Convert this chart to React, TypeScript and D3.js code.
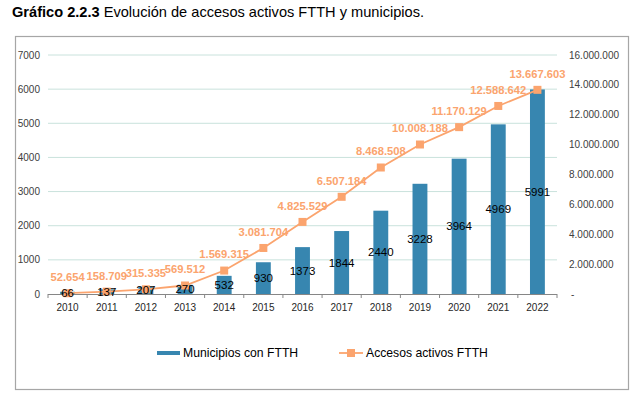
import React, { useEffect, useRef } from 'react';
import * as d3 from 'd3';

const years = ['2010', '2011', '2012', '2013', '2014', '2015', '2016', '2017', '2018', '2019', '2020', '2021', '2022'];
const municipios = [66, 137, 207, 270, 532, 930, 1373, 1844, 2440, 3228, 3964, 4969, 5991];
const accesos = [52654, 158709, 315335, 569512, 1569315, 3081704, 4825529, 6507184, 8468508, 10008188, 11170129, 12588642, 13667603];
const leftTicks = [0, 1000, 2000, 3000, 4000, 5000, 6000, 7000];
const rightTicks = [0, 2000000, 4000000, 6000000, 8000000, 10000000, 12000000, 14000000, 16000000];

const BLUE = '#3786b0';
const ORANGE = '#fba46e';
const FONT = '"Liberation Sans", Arial, sans-serif';

// 1.569.315 style
const fmtDots = (v: number) => d3.format(',')(v).replace(/,/g, '.');

export default function App() {
  const ref = useRef<SVGSVGElement>(null);

  useEffect(() => {
    const svg = d3.select(ref.current);
    svg.selectAll('*').remove();

    const left = 48, right = 557, top = 55, bottom = 294;

    const x = d3.scaleBand()
      .domain(years)
      .range([left, right])
      .paddingInner(0.62)
      .paddingOuter(0.31);
    const yL = d3.scaleLinear().domain([0, 7000]).range([bottom, top]);
    const yR = d3.scaleLinear().domain([0, 16000000]).range([bottom, top]);
    const cx = (d: string) => (x(d) as number) + x.bandwidth() / 2;

    // title
    const title = svg.append('text')
      .attr('x', 12).attr('y', 17)
      .style('font-family', FONT).style('font-size', '14.6px').attr('fill', '#000');
    title.append('tspan').attr('font-weight', 'bold').text('Gráfico 2.2.3');
    title.append('tspan').text(' Evolución de accesos activos FTTH y municipios.');

    // frame
    svg.append('rect')
      .attr('x', 15.5).attr('y', 36.5).attr('width', 613).attr('height', 353)
      .attr('fill', '#fff').attr('stroke', '#a6a6a6').attr('stroke-width', 1.2);

    // grid
    svg.append('g').selectAll('line')
      .data(leftTicks.filter(t => t > 0)).enter()
      .append('line')
      .attr('x1', left).attr('x2', right)
      .attr('y1', d => yL(d)).attr('y2', d => yL(d))
      .attr('stroke', '#c9e2dc').attr('stroke-width', 1);

    // left axis labels
    svg.append('g').selectAll('text')
      .data(leftTicks).enter()
      .append('text')
      .attr('x', 40).attr('y', d => yL(d)).attr('dy', '0.35em')
      .attr('text-anchor', 'end')
      .style('font-family', FONT).style('font-size', '10px').attr('fill', '#404040')
      .text(d => String(d));

    // right axis labels
    svg.append('g').selectAll('text')
      .data(rightTicks).enter()
      .append('text')
      .attr('x', d => (d === 0 ? 571 : 569)).attr('y', d => yR(d)).attr('dy', '0.35em')
      .style('font-family', FONT).style('font-size', '10px').attr('fill', '#404040')
      .text(d => (d === 0 ? '-' : fmtDots(d)));

    // bars
    svg.append('g').selectAll('rect')
      .data(municipios).enter()
      .append('rect')
      .attr('x', (d, i) => x(years[i]) as number)
      .attr('y', d => yL(d))
      .attr('width', x.bandwidth())
      .attr('height', d => bottom - yL(d))
      .attr('fill', BLUE);

    // x axis
    svg.append('line')
      .attr('x1', left).attr('x2', right).attr('y1', bottom + 0.5).attr('y2', bottom + 0.5)
      .attr('stroke', '#868686');
    const bounds = years.map(y => (x(y) as number) - x.step() * x.paddingInner() / 2).concat([right]);
    svg.append('g').selectAll('line')
      .data(bounds).enter()
      .append('line')
      .attr('x1', d => d).attr('x2', d => d)
      .attr('y1', bottom).attr('y2', bottom + 4)
      .attr('stroke', '#868686');
    svg.append('g').selectAll('text')
      .data(years).enter()
      .append('text')
      .attr('x', d => cx(d)).attr('y', 311)
      .attr('text-anchor', 'middle')
      .style('font-family', FONT).style('font-size', '10px').attr('fill', '#262626')
      .text(d => d);

    // line
    const line = d3.line<number>()
      .x((d, i) => cx(years[i]))
      .y(d => yR(d));
    svg.append('path')
      .datum(accesos)
      .attr('d', line)
      .attr('fill', 'none').attr('stroke', ORANGE).attr('stroke-width', 1.8);
    svg.append('g').selectAll('rect')
      .data(accesos).enter()
      .append('rect')
      .attr('x', (d, i) => cx(years[i]) - 4)
      .attr('y', d => yR(d) - 4)
      .attr('width', 8).attr('height', 8)
      .attr('fill', ORANGE);

    // bar labels
    svg.append('g').selectAll('text')
      .data(municipios).enter()
      .append('text')
      .attr('x', (d, i) => cx(years[i]))
      .attr('y', d => (yL(d) + bottom) / 2).attr('dy', '0.35em')
      .attr('text-anchor', 'middle')
      .style('font-family', FONT).style('font-size', '11.5px').attr('fill', '#000')
      .text(d => String(d));

    // line labels
    svg.append('g').selectAll('text')
      .data(accesos).enter()
      .append('text')
      .attr('x', (d, i) => cx(years[i]))
      .attr('y', d => yR(d) - 16).attr('dy', '0.35em')
      .attr('text-anchor', 'middle')
      .style('font-family', FONT).style('font-size', '11.2px').attr('font-weight', 'bold')
      .attr('fill', ORANGE)
      .text(d => fmtDots(d));

    // legend
    const ly = 353;
    svg.append('rect').attr('x', 157).attr('y', ly - 2).attr('width', 23).attr('height', 4).attr('fill', BLUE);
    svg.append('text')
      .attr('x', 183).attr('y', ly).attr('dy', '0.35em')
      .style('font-family', FONT).style('font-size', '12.2px').attr('fill', '#000')
      .text('Municipios con FTTH');
    svg.append('line').attr('x1', 339).attr('x2', 363).attr('y1', ly).attr('y2', ly)
      .attr('stroke', ORANGE).attr('stroke-width', 1.8);
    svg.append('rect').attr('x', 347).attr('y', ly - 4).attr('width', 8).attr('height', 8).attr('fill', ORANGE);
    svg.append('text')
      .attr('x', 366).attr('y', ly).attr('dy', '0.35em')
      .style('font-family', FONT).style('font-size', '12.2px').attr('fill', '#000')
      .text('Accesos activos FTTH');
  }, []);

  return (
    <svg ref={ref} width={643} height={394}
      style={{ position: 'absolute', left: 0, top: 0, background: '#fff' }} />
  );
}
